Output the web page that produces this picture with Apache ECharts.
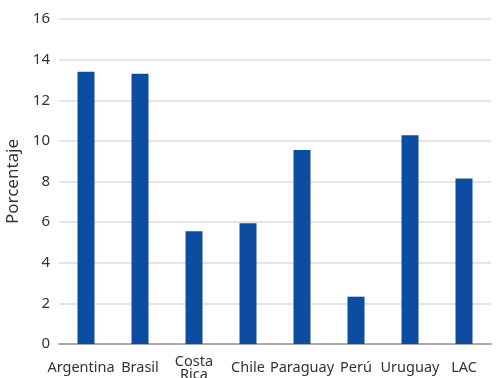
<!DOCTYPE html>
<html>
<head>
<meta charset="utf-8">
<script src="https://cdn.jsdelivr.net/npm/echarts@6/dist/echarts.min.js"></script>
<style>
  html, body { margin: 0; padding: 0; background: #fff; }
  #root { width: 501px; height: 378px; }
</style>
</head>
<body>
<div id="root"></div>
<script>
  // data
  const countries = ['Argentina', 'Brasil', 'Costa\nRica', 'Chile', 'Paraguay', 'Perú', 'Uruguay', 'LAC']
  const values = [13.4, 13.3, 5.55, 5.95, 9.55, 2.33, 10.28, 8.15]
  const yTicks = [0, 2, 4, 6, 8, 10, 12, 14, 16]

  const chart = echarts.init(document.getElementById('root'))

  // first label sits a bit left of its bar in the original
  const categoryData = countries.map((c, i) =>
    i === 0 ? { value: c, textStyle: { padding: [0, 10, 0, 0], verticalAlign: 'middle' } } : c
  )

  const option = {
    animation: false,
    textStyle: { fontFamily: 'Noto Sans' },
    grid: {
      left: 59,
      right: 10,
      top: 19,
      bottom: 34,
      outerBoundsMode: 'none',
      containLabel: false
    },
    xAxis: {
      type: 'category',
      data: categoryData,
      axisLine: { lineStyle: { color: '#aaaaaa', width: 2 } },
      axisTick: { show: false },
      axisLabel: {
        color: '#333',
        fontSize: 14.5,
        lineHeight: 13,
        margin: 24,
        verticalAlign: 'middle',
        interval: 0
      }
    },
    yAxis: {
      type: 'value',
      min: yTicks[0],
      max: yTicks[yTicks.length - 1],
      interval: 2,
      name: 'Porcentaje',
      nameLocation: 'middle',
      nameGap: 33,
      nameTextStyle: { color: '#333', fontSize: 17 },
      axisLine: { show: false },
      axisTick: { show: false },
      axisLabel: { color: '#333', fontSize: 15, margin: 9 },
      splitLine: { lineStyle: { color: '#dddddd', width: 1.5 } }
    },
    series: [
      {
        type: 'bar',
        data: values,
        barWidth: 17,
        itemStyle: { color: '#0D4DA1' }
      }
    ]
  }
  chart.setOption(option)
</script>
</body>
</html>
